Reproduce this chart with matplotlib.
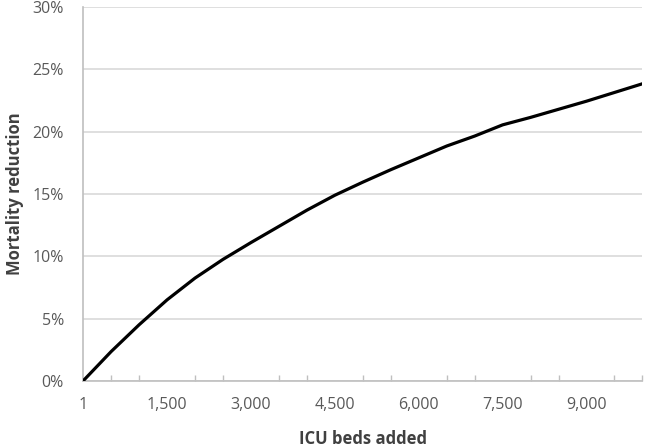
import matplotlib
matplotlib.use("Agg")
import matplotlib.pyplot as plt
from matplotlib.ticker import FixedLocator, FuncFormatter

# ICU beds added vs. mortality reduction (%)
beds = [0, 500, 1000, 1500, 2000, 2500, 3000, 3500, 4000, 4500, 5000,
        5500, 6000, 6500, 7000, 7500, 8000, 8500, 9000, 9500, 10000]
reduction = [0.0, 2.35, 4.5, 6.5, 8.25, 9.75, 11.1, 12.4, 13.7, 14.9, 15.95,
             16.95, 17.9, 18.85, 19.65, 20.55, 21.15, 21.8, 22.45, 23.15, 23.85]

x_labels = ["1", "1,500", "3,000", "4,500", "6,000", "7,500", "9,000"]
y_ticks = [0, 5, 10, 15, 20, 25, 30]

plt.rcParams["font.family"] = ["Open Sans", "DejaVu Sans"]

fig, ax = plt.subplots(figsize=(6.45, 4.48), dpi=100)
fig.subplots_adjust(left=0.129, right=0.996, top=0.984, bottom=0.150)

ax.plot(beds, reduction, color="black", lw=2.3, solid_joinstyle="round",
        zorder=3)

ax.set_xlim(0, 10000)
ax.set_ylim(0, 30)

# y axis: gridlines, no tick marks
ax.set_yticks(y_ticks)
ax.yaxis.set_major_formatter(FuncFormatter(lambda v, p: f"{v:.0f}%"))
ax.grid(axis="y", color="#d9d9d9", lw=1.2)
ax.set_axisbelow(True)
ax.tick_params(axis="y", length=0, pad=14, labelsize=11.5, labelcolor="#595959")

# x axis: tick every 500, label every 1500
ax.xaxis.set_major_locator(FixedLocator(list(range(0, 10001, 1500))))
ax.set_xticklabels(x_labels)
ax.xaxis.set_minor_locator(FixedLocator(list(range(0, 10001, 500))))
ax.tick_params(axis="x", which="major", length=0, pad=12, labelsize=11.5,
               labelcolor="#595959")
ax.tick_params(axis="x", which="minor", direction="in", length=4,
               width=1, color="#bfbfbf")

for side in ["top", "right"]:
    ax.spines[side].set_visible(False)
for side in ["left", "bottom"]:
    ax.spines[side].set_color("#bfbfbf")
    ax.spines[side].set_linewidth(1.2)

ax.set_xlabel("ICU beds added", fontsize=12, fontweight="bold",
              color="#404040", labelpad=12)
ax.set_ylabel("Mortality reduction", fontsize=12, fontweight="bold",
              color="#404040", labelpad=6)

fig.savefig("out.png", dpi=100)
